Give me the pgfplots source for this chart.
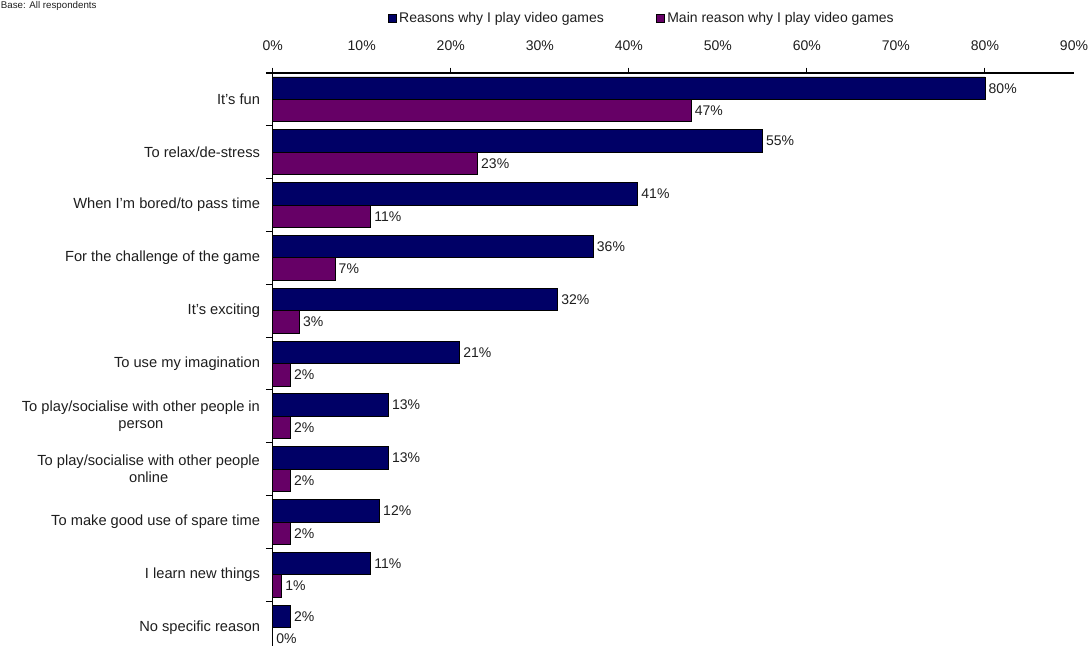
\documentclass[border=0pt]{standalone}
\usepackage{pgfplots}
\pgfplotsset{compat=1.18}
\usepackage{fontspec}
\setmainfont{Liberation Sans}
\definecolor{navybar}{HTML}{000066}
\definecolor{purplebar}{HTML}{660066}
\definecolor{txt}{HTML}{1E1E1E}
\begin{document}
\begin{tikzpicture}
\node[anchor=base west, inner sep=0pt, font=\fontsize{7.3}{8}\selectfont, text=txt] at (0.5pt,-6pt) {Base: All respondents};
\begin{axis}[
  at={(204.5pt,-490.5pt)}, anchor=south west,
  scale only axis, width=601pt, height=435.75pt,
  xbar, bar width=0.425,
  xmin=0, xmax=90, ymin=-0.5, ymax=10.5,
  enlargelimits=false, clip=false,
  /pgf/number format/assume math mode=true,
  axis x line*=top, axis y line*=left,
  axis line style={line width=0.8pt, black},
  tick align=outside,
  major tick length=0pt,
  xtick={0,10,...,90},
  xticklabel={\pgfmathprintnumber{\tick}\%},
  xticklabel style={font=\fontsize{10.5}{12}\selectfont, text=txt, yshift=13pt},
  extra x ticks={0,20,40,60,80},
  extra x tick labels={},
  extra x tick style={major tick length=4pt, tick style={black, line width=0.8pt}},
  ytick={0,...,10},
  yticklabels={No specific reason, I learn new things, To make good use of spare time,
    {To play/socialise with other people\\online},
    {To play/socialise with other people in\\person},
    To use my imagination, It's exciting, For the challenge of the game,
    When I'm bored/to pass time, To relax/de-stress, It's fun},
  yticklabel style={font=\fontsize{11}{12.75}\selectfont, text=txt, align=center, xshift=-6pt},
  extra y ticks={-0.5,0.5,...,10.5},
  extra y tick labels={},
  extra y tick style={major tick length=5pt, tick style={black, line width=0.8pt}},
  point meta=x,
  nodes near coords={\pgfmathprintnumber[fixed,precision=0]{\pgfplotspointmeta}\%},
  every node near coord/.append style={anchor=west, font=\fontsize{10.5}{12}\selectfont, text=txt, inner sep=2.5pt},
  legend style={at={(0.461,1.0947)}, anchor=center, draw=none, fill=none,
    legend columns=2, font=\fontsize{10.5}{12}\selectfont, text=txt,
    /tikz/every even column/.append style={column sep=37pt},
    inner sep=0pt},
  legend image code/.code={\draw[#1] (0pt,-3pt) rectangle (6pt,3pt);},
]
\addplot[fill=navybar, draw=black, line width=0.6pt, bar shift=0.2125] coordinates {
(2,0) (11,1) (12,2) (13,3) (13,4) (21,5) (32,6) (36,7) (41,8) (55,9) (80,10)};
\addlegendentry{Reasons why I play video games}
\addplot[fill=purplebar, draw=black, line width=0.6pt, bar shift=-0.2125] coordinates {
(0,0) (1,1) (2,2) (2,3) (2,4) (2,5) (3,6) (7,7) (11,8) (23,9) (47,10)};
\addlegendentry{Main reason why I play video games}
\end{axis}
\pgfresetboundingbox
\useasboundingbox (0pt,0pt) rectangle (816.75pt,-484.5pt);
\end{tikzpicture}
\end{document}
